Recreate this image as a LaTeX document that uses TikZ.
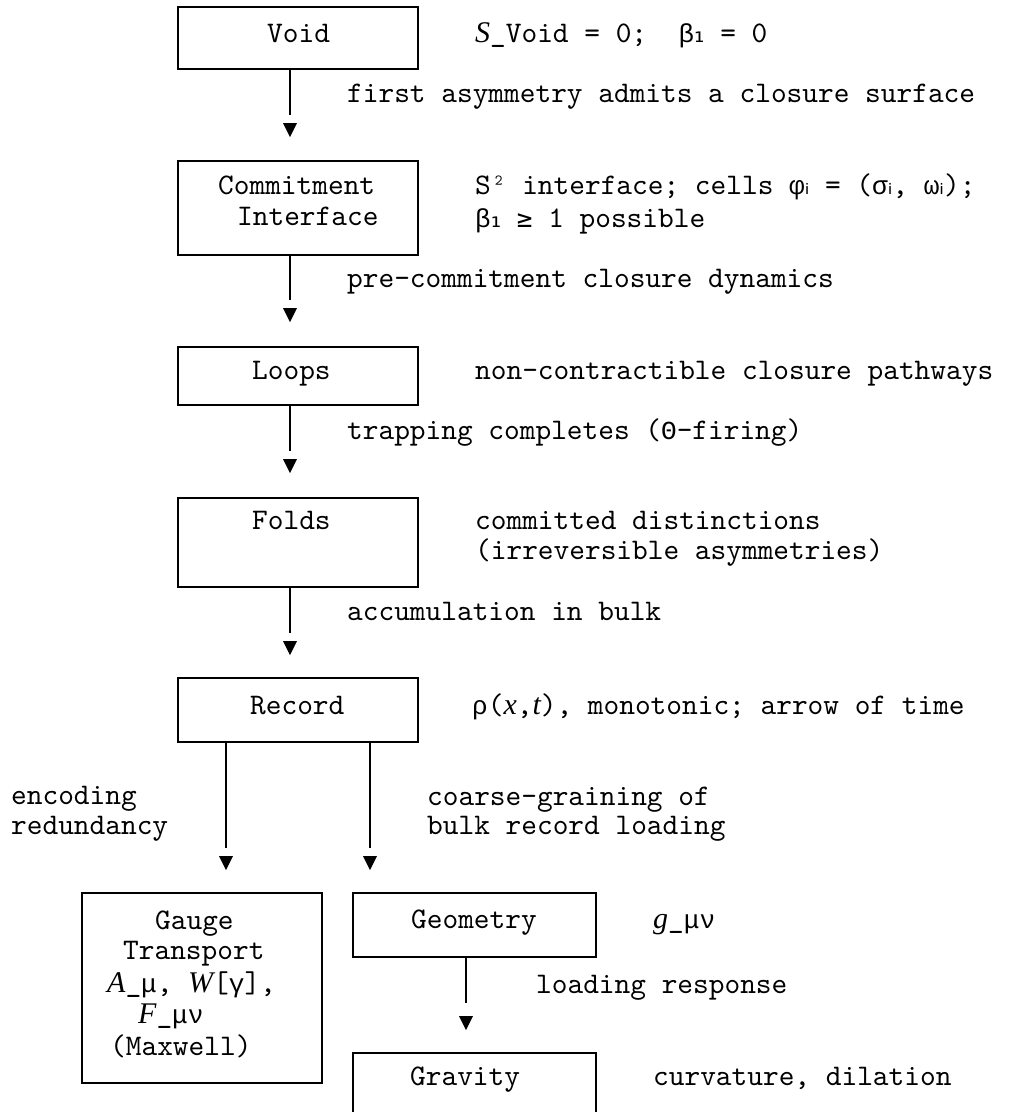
\documentclass[tikz,border=0pt]{standalone}
\usepackage{fontspec}
\newfontfamily\lmm{lmmono10-regular.otf}
\newfontfamily\cour{Liberation Mono}
\newfontfamily\dvs{DejaVu Sans}
\newfontfamily\dvm{DejaVu Sans Mono}
\newfontfamily\lser{Liberation Serif}
\newcommand{\gk}[1]{{\cour\fontsize{26}{30}\selectfont #1}}
\newcommand{\sbx}[1]{{\dvs\fontsize{26}{30}\selectfont #1}}
\newcommand{\mi}[1]{{\lser\itshape\fontsize{30}{30}\selectfont #1}}
\begin{document}
\begin{tikzpicture}[x=1pt,y=-1pt,
  box/.style={draw, line width=1.8pt, rectangle, inner sep=0pt, minimum width=240pt},
  conn/.style={line width=1.8pt},
  txt/.style={anchor=mid west, inner sep=0pt, font=\lmm\fontsize{29.9}{30}\selectfont},
  dtip/.pic={\fill (0,0) -- (-7pt,14pt) -- (7pt,14pt) -- cycle;}]
\useasboundingbox (0,0) rectangle (1018,1112);
\fill[white] (0,0) rectangle (1018,1112);
\clip (0,0) rectangle (1018,1112);

% boxes
\node[box, minimum height=62pt] (void) at (298,38) {};
\node[box, minimum height=94pt] (commit) at (298,208) {};
\node[box, minimum height=58pt] (loops) at (298,376) {};
\node[box, minimum height=89pt] (folds) at (298,542.5) {};
\node[box, minimum height=64pt] (record) at (298,710) {};
\node[box, minimum height=190pt] (gauge) at (202,988) {};
\node[box, minimum height=64pt, minimum width=243pt] (geometry) at (474.5,925) {};
\node[box, minimum height=64pt, minimum width=243pt] (gravity) at (474.5,1085) {};

% box texts
\node[txt] (tvoid) at (267,40) {Void};
\node[txt] (tcommit1) at (218,192) {Commitment};
\node[txt] (tcommit2) at (237,223) {Interface};
\node[txt] (tloops) at (252,377) {Loops};
\node[txt] (tfolds) at (252,527) {Folds};
\node[txt] (trecord) at (250,712) {Record};
\node[txt] (tgauge1) at (155,927) {Gauge};
\node[txt] (tgauge2) at (123,957) {Transport};
\node[txt] (tgauge3) at (107,990) {\mi{A}\_\gk{μ}, \mi{W}[\gk{γ}],};
\node[txt] (tgauge4) at (138,1021) {\mi{F}\_\gk{μν}};
\node[txt] (tgauge5) at (110,1053) {(Maxwell)};
\node[txt] (tgeom) at (411,926) {Geometry};
\node[txt] (tgrav) at (410,1083) {Gravity};

% side notes
\node[txt] (n1) at (475,40) {\mi{S}\_Void = 0;~~\gk{β}\sbx{₁} = 0};
\node[txt] (n2) at (475,192) {S² interface; cells \gk{φ}\sbx{ᵢ} = (\gk{σ}\sbx{ᵢ}, \gk{ω}\sbx{ᵢ});};
\node[txt] (n3) at (475,225) {\gk{β}\sbx{₁} {\dvm\fontsize{26}{30}\selectfont ≥} 1 possible};
\node[txt] (n4) at (475,377) {non-contractible closure pathways};
\node[txt] (n5) at (475,527) {committed distinctions};
\node[txt] (n6) at (475,557) {(irreversible asymmetries)};
\node[txt] (n7) at (472,712) {\gk{ρ}(\mi{x},\mi{t}), monotonic; arrow of time};
\node[txt] (n8) at (653,926) {\mi{g}\_\gk{μν}};
\node[txt] (n9) at (653,1083) {curvature, dilation};

% connector labels
\node[txt] (l1) at (347,100) {first asymmetry admits a closure surface};
\node[txt] (l2) at (347,285) {pre-commitment closure dynamics};
\node[txt] (l3) at (347,437) {trapping completes (\gk{Θ}-firing)};
\node[txt] (l4) at (347,618) {accumulation in bulk};
\node[txt] (l5a) at (11,802) {encoding};
\node[txt] (l5b) at (11,832) {redundancy};
\node[txt] (l6a) at (427,803) {coarse-graining of};
\node[txt] (l6b) at (427,832) {bulk record loading};
\node[txt] (l7) at (536,991) {loading response};

% connectors
\coordinate (h1) at (290,137);
\coordinate (h2) at (290,322);
\coordinate (h3) at (290,473);
\coordinate (h4) at (290,655);
\coordinate (h5) at (226,870);
\coordinate (h6) at (370,870);
\coordinate (h7) at (466,1030);
\draw[conn] (void.south -| h1) -- ([yshift=22pt]h1);
\draw[conn] (commit.south -| h2) -- ([yshift=22pt]h2);
\draw[conn] (loops.south -| h3) -- ([yshift=22pt]h3);
\draw[conn] (folds.south -| h4) -- ([yshift=22pt]h4);
\draw[conn] (record.south -| h5) -- ([yshift=22pt]h5);
\draw[conn] (record.south -| h6) -- ([yshift=22pt]h6);
\draw[conn] (geometry.south -| h7) -- ([yshift=27pt]h7);
\foreach \h in {h1,h2,h3,h4,h5,h6,h7} \pic at (\h) {dtip};
\end{tikzpicture}
\end{document}
